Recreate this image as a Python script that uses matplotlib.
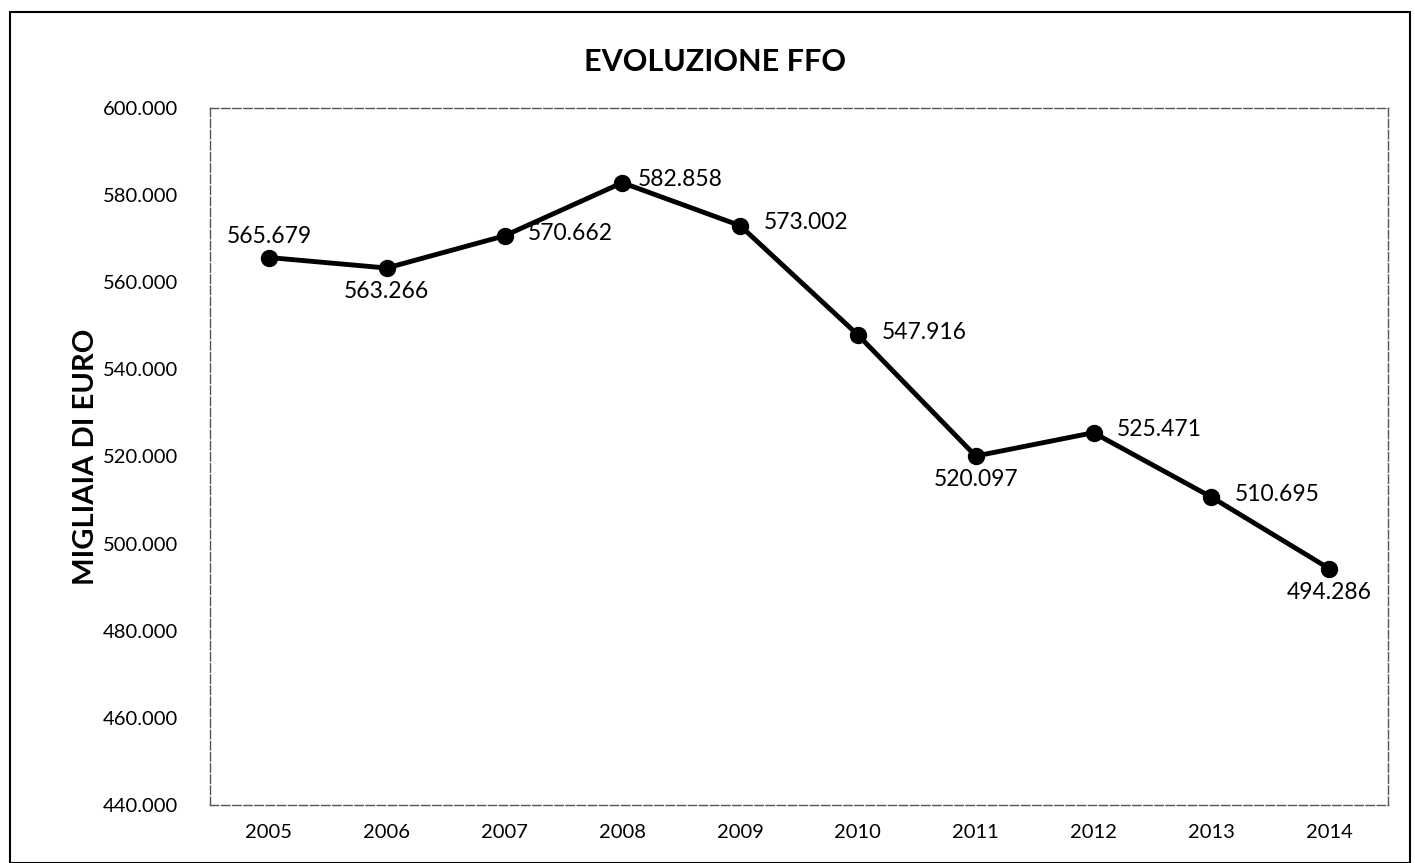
import matplotlib.pyplot as plt
from matplotlib.patches import Rectangle

# dati FFO (migliaia di euro)
anni = ['2005', '2006', '2007', '2008', '2009', '2010', '2011', '2012', '2013', '2014']
ffo = [565.679, 563.266, 570.662, 582.858, 573.002, 547.916, 520.097, 525.471, 510.695, 494.286]
etichette = ['565.679', '563.266', '570.662', '582.858', '573.002', '547.916', '520.097', '525.471', '510.695', '494.286']
y_ticks = [440, 460, 480, 500, 520, 540, 560, 580, 600]

# dove mettere l'etichetta di ogni punto
pos = ['above', 'below', 'right', 'right', 'right', 'right', 'below', 'right', 'right', 'below']

plt.rcParams['font.family'] = ['Lato', 'DejaVu Sans']

fig = plt.figure(figsize=(14.15, 8.63), dpi=100)
ax = fig.add_axes([210 / 1415, 1 - 805 / 863, 1178 / 1415, 697 / 863])

x = list(range(len(anni)))
ax.plot(x, ffo, color='black', lw=3.5, marker='o', markersize=11.5, solid_capstyle='round')

for i, (v, t, p) in enumerate(zip(ffo, etichette, pos)):
    if p == 'above':
        ax.annotate(t, (i, v), xytext=(0, 15), textcoords='offset points', ha='center', va='center', fontsize=16.5)
    elif p == 'below':
        ax.annotate(t, (i, v), xytext=(0, -17), textcoords='offset points', ha='center', va='center', fontsize=16.5)
    else:
        dx = 11 if i == 3 else 17
        ax.annotate(t, (i, v), xytext=(dx, 2), textcoords='offset points', ha='left', va='center', fontsize=16.5)

ax.set_xlim(-0.5, 9.5)
ax.set_ylim(440, 600)
ax.set_xticks(x)
ax.set_xticklabels(anni, fontsize=14.5)
ax.set_yticks(y_ticks)
ax.set_yticklabels([f'{v}.000' for v in y_ticks], fontsize=14.5)
ax.tick_params(length=0, pad=14)
ax.tick_params(axis='y', pad=23)

for s in ax.spines.values():
    s.set_color('#555555')
    s.set_linewidth(1)
    s.set_linestyle((0, (6, 2)))

ax.set_ylabel('MIGLIAIA DI EURO', fontsize=21, fontweight='bold', labelpad=3)
fig.text(0.505, 1 - 62 / 863, 'EVOLUZIONE FFO', ha='center', va='center', fontsize=22, fontweight='bold')

# cornice esterna
fig.patches.append(Rectangle((10 / 1415, 0), 1400 / 1415, 1 - 12 / 863, transform=fig.transFigure,
                             fill=False, edgecolor='black', lw=1.5))

fig.savefig('out.png', dpi=100)
